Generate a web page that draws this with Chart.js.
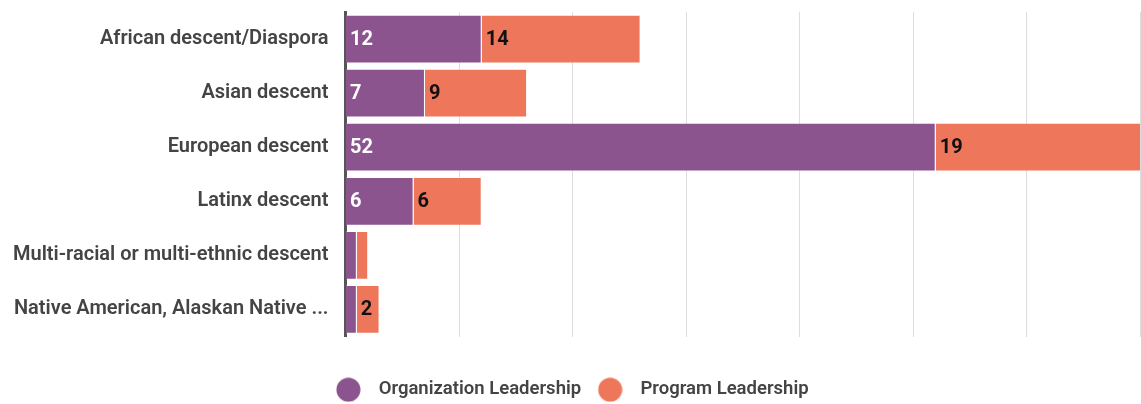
<!DOCTYPE html>
<html>
<head>
<meta charset="utf-8">
<script src="https://cdn.jsdelivr.net/npm/chart.js@4.4.1/dist/chart.umd.min.js"></script>
<style>
  html, body { margin: 0; padding: 0; background: #fff; }
  #wrap { width: 1141px; height: 404px; }
</style>
</head>
<body>
<div id="wrap"><canvas id="chart"></canvas></div>
<script>
const categories = [
  "African descent/Diaspora",
  "Asian descent",
  "European descent",
  "Latinx descent",
  "Multi-racial or multi-ethnic descent",
  "Native American, Alaskan Native ..."
];
const orgLeadership = [12, 7, 52, 6, 1, 1];
const programLeadership = [14, 9, 19, 6, 1, 2];

const PURPLE = "#8b548f";
const ORANGE = "#ee775b";
const FONT = "Roboto, 'Noto Sans', sans-serif";

// round legend markers drawn to a small canvas
function dot(color) {
  const c = document.createElement("canvas");
  c.width = 25; c.height = 25;
  const g = c.getContext("2d");
  g.fillStyle = color;
  g.beginPath(); g.arc(12.5, 12.5, 12, 0, Math.PI * 2); g.fill();
  return c;
}
const dots = [dot(PURPLE), dot(ORANGE)];

// draws the value at the start of each segment, skips tiny ones
const segmentLabels = {
  id: "segmentLabels",
  afterDatasetsDraw(chart) {
    const ctx = chart.ctx;
    ctx.save();
    ctx.font = "bold 20px " + FONT;
    ctx.textBaseline = "middle";
    ctx.textAlign = "left";
    chart.data.datasets.forEach((ds, i) => {
      const meta = chart.getDatasetMeta(i);
      meta.data.forEach((bar, j) => {
        const v = ds.data[j];
        if (v < 2) return;
        ctx.fillStyle = i === 0 ? "#ffffff" : "#111111";
        ctx.fillText(String(v), bar.base + 4, bar.y + 1);
      });
    });
    ctx.restore();
  }
};

new Chart(document.getElementById("chart"), {
  type: "bar",
  data: {
    labels: categories,
    datasets: [
      { label: "Organization Leadership", data: orgLeadership, backgroundColor: PURPLE,
        borderColor: "rgba(255,255,255,0.25)", borderWidth: 1 },
      { label: "Program Leadership", data: programLeadership, backgroundColor: ORANGE,
        borderColor: "rgba(255,255,255,0.25)", borderWidth: 1 }
    ]
  },
  options: {
    indexAxis: "y",
    responsive: true,
    maintainAspectRatio: false,
    animation: false,
    layout: { padding: { top: 12, right: 1, bottom: -5, left: -4 } },
    datasets: { bar: { barPercentage: 1, categoryPercentage: 0.9 } },
    scales: {
      x: {
        stacked: true,
        min: 0, max: 70,
        ticks: { display: false, stepSize: 10 },
        grid: { color: "#dddddd", lineWidth: 1, drawTicks: false },
        border: { display: false },
        afterFit(scale) { scale.height = 36; }
      },
      y: {
        stacked: true,
        grid: { display: false, drawTicks: false },
        border: { display: true, color: "#555555", width: 3 },
        ticks: {
          color: "#444444",
          padding: 17,
          font: { family: FONT, size: 20, weight: 600 }
        },
        afterFit(scale) { scale.paddingTop = 0; scale.paddingBottom = 0; }
      }
    },
    plugins: {
      legend: {
        position: "bottom",
        labels: {
          usePointStyle: true,
          pointStyleWidth: 42,
          boxHeight: 18,
          padding: 8,
          color: "#444444",
          font: { family: FONT, size: 18.5, weight: 600 },
          generateLabels(chart) {
            const items = Chart.defaults.plugins.legend.labels.generateLabels(chart);
            items.forEach((it, i) => { it.pointStyle = dots[i]; });
            return items;
          }
        }
      },
      tooltip: { enabled: false }
    }
  },
  plugins: [segmentLabels]
});
</script>
</body>
</html>
